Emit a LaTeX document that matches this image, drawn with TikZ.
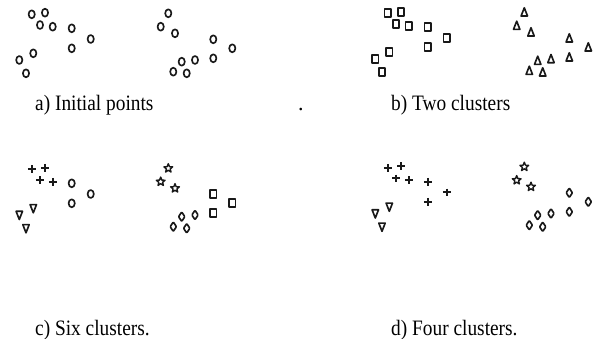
\documentclass[tikz,border=0pt]{standalone}
\usepackage{fontspec}
\setmainfont{Liberation Serif}
\begin{document}
\begin{tikzpicture}[x=1pt,y=-1pt,
  mk/.style={line width=1.65pt, draw=black!90, line join=round},
  lbl/.style={anchor=base west, inner sep=0pt, font=\fontsize{22}{22}\selectfont, text=black}]
\useasboundingbox (0,0) rectangle (595,339);
\tikzset{
  circ/.pic={\draw[mk] (0,0) ellipse [x radius=3.1, y radius=4];},
  sqr/.pic={\draw[mk] (-3.1,-4) rectangle (3.1,4);},
  triup/.pic={\draw[mk] (0,-4.5) -- (3.2,3.7) -- (-3.2,3.7) -- cycle;},
  tridn/.pic={\draw[mk] (0,4.5) -- (3.2,-3.7) -- (-3.2,-3.7) -- cycle;},
  plusm/.pic={\draw[mk,line width=2pt,line cap=butt] (-3.9,0) -- (3.9,0) (0,-3.9) -- (0,3.9);},
  starm/.pic={\draw[mk,line width=1.4pt] (-90:4.6) -- (-54:2) -- (-18:4.6) -- (18:2) -- (54:4.6)
      -- (90:2) -- (126:4.6) -- (162:2) -- (198:4.6) -- (234:2) -- cycle;},
  diam/.pic={\draw[mk,rounded corners=0.8pt] (0,-4.7) -- (3.1,0) -- (0,4.7) -- (-3.1,0) -- cycle;}
}
% common layout of the twenty points
\foreach \n/\x/\y in {1/31.7/14.3, 2/45/12.7, 3/40/25, 4/52.7/26.7, 5/71.7/28.3,
    6/90.7/39, 7/71.7/48.3, 8/33.3/53.3, 9/19.3/60, 10/26/73.3,
    11/168.3/13.3, 12/160.7/26.7, 13/175/33.3, 14/213.3/39.3, 15/232.3/48.3,
    16/213.3/58.3, 17/195/60, 18/181.7/61.7, 19/173.3/71.7, 20/186.7/73.3}
  \coordinate (b\n) at (\x,\y);

% a) initial points
\foreach \n in {1,...,20} \pic at (b\n) {circ};
% b) two clusters
\foreach \n in {1,...,10} \pic at ([shift={(356,-1)}]b\n) {sqr};
\foreach \n in {11,...,20} \pic at ([shift={(356,-1)}]b\n) {triup};
% c) six clusters
\foreach \n in {1,...,4} \pic at ([shift={(0,155)}]b\n) {plusm};
\foreach \n in {5,6,7} \pic at ([shift={(0,155)}]b\n) {circ};
\foreach \n in {8,9,10} \pic at ([shift={(0,155)}]b\n) {tridn};
\foreach \n in {11,12,13} \pic at ([shift={(0,155)}]b\n) {starm};
\foreach \n in {14,15,16} \pic at ([shift={(0,155)}]b\n) {sqr};
\foreach \n in {17,...,20} \pic at ([shift={(0,155)}]b\n) {diam};
% d) four clusters
\foreach \n in {1,...,7} \pic at ([shift={(356,153.5)}]b\n) {plusm};
\foreach \n in {8,9,10} \pic at ([shift={(356,153.5)}]b\n) {tridn};
\foreach \n in {11,12,13} \pic at ([shift={(356,153.5)}]b\n) {starm};
\foreach \n in {14,...,20} \pic at ([shift={(356,153.5)}]b\n) {diam};

% captions
\node[lbl] (capa) at (35,111) {\scalebox{0.88}[1]{a) Initial points}};
\node[lbl] (dot) at (298,111) {.};
\node[lbl] (capb) at (391,111) {\scalebox{0.88}[1]{b) Two clusters}};
\node[lbl] (capc) at (35,335.5) {\scalebox{0.88}[1]{c) Six clusters.}};
\node[lbl] (capd) at (391,335.5) {\scalebox{0.88}[1]{d) Four clusters.}};
\end{tikzpicture}
\end{document}
